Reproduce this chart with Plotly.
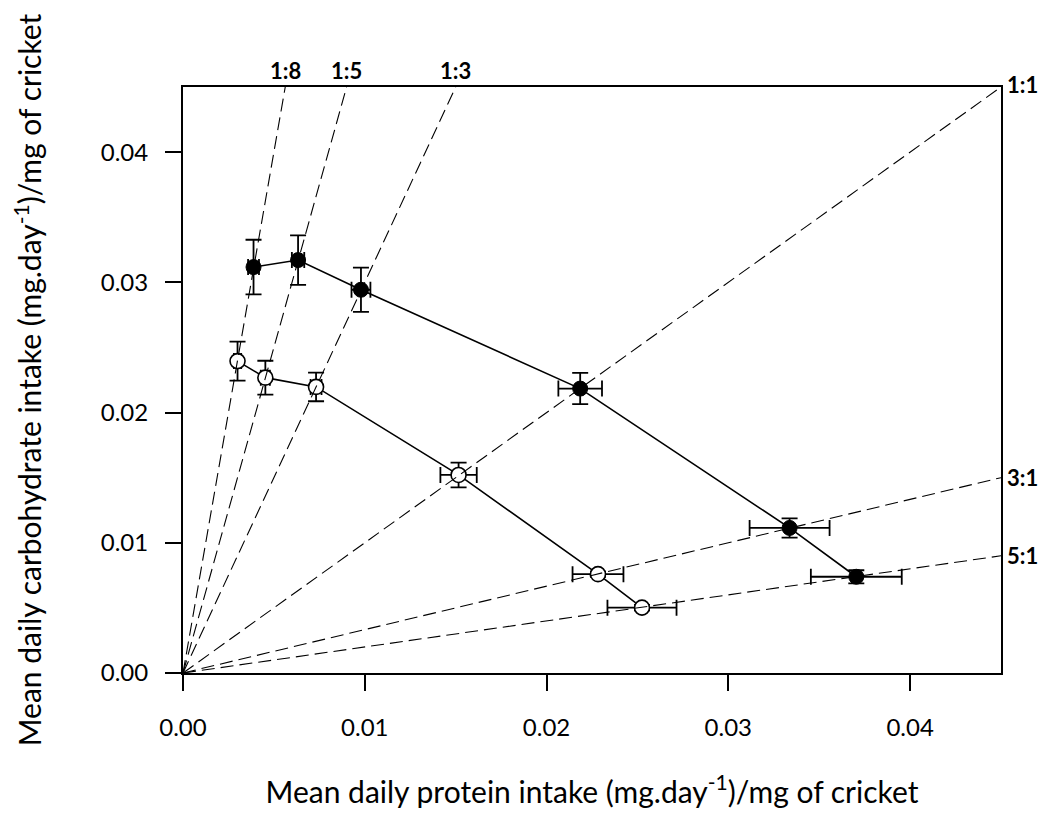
import plotly.graph_objects as go

# ---- data ----
filled_x = [0.00388, 0.00633, 0.00979, 0.02185, 0.03337, 0.03704]
filled_y = [0.03117, 0.03171, 0.02943, 0.02184, 0.01114, 0.00739]
filled_xerr = [0.0003, 0.00034, 0.00052, 0.0012, 0.0022, 0.0025]
filled_yerr = [0.0021, 0.0019, 0.0017, 0.0012, 0.00074, 0.0005]

open_x = [0.0030, 0.00453, 0.00732, 0.01516, 0.02283, 0.02525]
open_y = [0.02395, 0.02268, 0.02197, 0.01521, 0.00759, 0.00502]
open_xerr = [0.0002, 0.00025, 0.0003, 0.0010, 0.0014, 0.0019]
open_yerr = [0.0015, 0.0013, 0.0011, 0.00095, 0.0002, 0.0002]

# protein : carbohydrate rails
rail_protein = [1, 1, 1, 1, 3, 5]
rail_carb = [8, 5, 3, 1, 1, 1]
rail_labels = ["1:8", "1:5", "1:3", "1:1", "3:1", "5:1"]

axis_max = 0.045
tick_vals = [0.00, 0.01, 0.02, 0.03, 0.04]
tick_text = ["0.00", "0.01", "0.02", "0.03", "0.04"]

TICK_FONT = dict(family="Lato", size=24, color="black")
TITLE_FONT = dict(family="Lato", size=30, color="black")
RAIL_FONT = dict(family="Lato", size=22, color="black")

fig = go.Figure()

err_style = dict(type="data", color="black", thickness=1.8, width=8)

fig.add_trace(go.Scatter(
    x=open_x, y=open_y, mode="lines+markers",
    line=dict(color="black", width=1.6),
    marker=dict(symbol="circle", size=15, color="white",
                line=dict(color="black", width=1.6)),
    error_x=dict(array=open_xerr, **err_style),
    error_y=dict(array=open_yerr, **err_style),
    showlegend=False, cliponaxis=False,
))
fig.add_trace(go.Scatter(
    x=filled_x, y=filled_y, mode="lines+markers",
    line=dict(color="black", width=1.6),
    marker=dict(symbol="circle", size=15, color="black",
                line=dict(color="black", width=1)),
    error_x=dict(array=filled_xerr, **err_style),
    error_y=dict(array=filled_yerr, **err_style),
    showlegend=False, cliponaxis=False,
))

annotations = []
for p, c, lab in zip(rail_protein, rail_carb, rail_labels):
    slope = c / p
    if slope >= 1:
        ex, ey = axis_max / slope, axis_max
    else:
        ex, ey = axis_max, axis_max * slope
    fig.add_trace(go.Scatter(
        x=[0, ex], y=[0, ey], mode="lines",
        line=dict(color="black", width=1.1, dash="13px,6px"),
        showlegend=False, hoverinfo="skip", cliponaxis=False,
    ))
    if slope > 1:
        annotations.append(dict(x=ex, y=ey, xref="x", yref="y", text=f"<b>{lab}</b>",
                                showarrow=False, xanchor="center", yanchor="bottom",
                                yshift=1, font=RAIL_FONT))
    else:
        annotations.append(dict(x=ex, y=ey, xref="x", yref="y", text=f"<b>{lab}</b>",
                                showarrow=False, xanchor="left", yanchor="middle",
                                xshift=4, yshift=3 if slope == 1 else 0,
                                font=RAIL_FONT))

axis_common = dict(
    range=[0, axis_max], showgrid=False, zeroline=False,
    showline=True, linecolor="black", linewidth=2, mirror=True,
    ticks="outside", ticklen=16, tickwidth=2, tickcolor="black",
    tickvals=tick_vals, ticktext=tick_text, tickfont=TICK_FONT,
)

fig.update_layout(
    width=1043, height=816,
    margin=dict(l=183, r=42, t=87, b=141),
    paper_bgcolor="white", plot_bgcolor="white",
    annotations=annotations,
    xaxis=dict(**axis_common, ticklabelstandoff=16,
               title=dict(text="Mean daily protein intake (mg.day<sup>-1</sup>)/mg of cricket",
                          font=TITLE_FONT, standoff=42)),
    yaxis=dict(**axis_common, ticklabelstandoff=12,
               title=dict(text="Mean daily carbohydrate intake (mg.day<sup>-1</sup>)/mg of cricket",
                          font=TITLE_FONT, standoff=50)),
)

fig.write_html("out.html")
